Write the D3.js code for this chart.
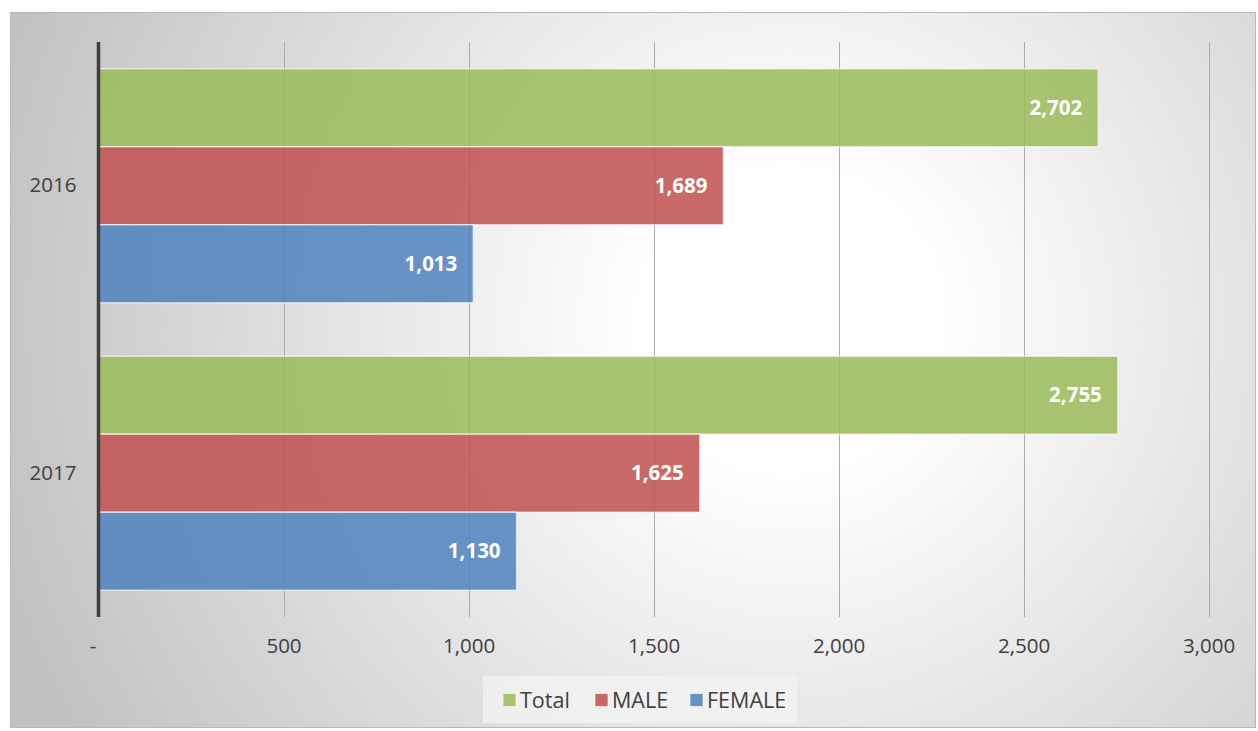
<!DOCTYPE html>
<html>
<head>
<meta charset="utf-8">
<script src="https://cdn.jsdelivr.net/npm/d3@7"></script>
<style>
  html, body { margin: 0; padding: 0; background: #ffffff; }
  svg { display: block; }
</style>
</head>
<body>
<svg id="chart" width="1258" height="731"></svg>
<script>
// Yearly counts by group
const years = ["2016", "2017"];
const seriesNames = ["Total", "MALE", "FEMALE"];
const totalValues = [2702, 2755];
const maleValues = [1689, 1625];
const femaleValues = [1013, 1130];
const tickValues = [0, 500, 1000, 1500, 2000, 2500, 3000];
const seriesColors = ["#9bbb59", "#c0504d", "#4f81bd"];

const valuesBySeries = [totalValues, maleValues, femaleValues];

const svg = d3.select("#chart");
const fontFamily = "'Open Sans', 'Noto Sans', sans-serif";

// Background: radial shading inside a framed panel
const defs = svg.append("defs");
const grad = defs.append("radialGradient")
  .attr("id", "bgGrad")
  .attr("gradientUnits", "userSpaceOnUse")
  .attr("cx", 790).attr("cy", 320).attr("r", 820);
grad.append("stop").attr("offset", "0").attr("stop-color", "#ffffff");
grad.append("stop").attr("offset", "0.18").attr("stop-color", "#ffffff");
grad.append("stop").attr("offset", "1").attr("stop-color", "#c2c2c2");

svg.append("rect")
  .attr("x", 10.5).attr("y", 12.5)
  .attr("width", 1245).attr("height", 715)
  .attr("fill", "url(#bgGrad)")
  .attr("stroke", "#b8b8b8")
  .attr("stroke-width", 1);

// Plot area
const plotLeft = 98.5, plotRight = 1208.5, plotTop = 42, plotBottom = 617;

const x = d3.scaleLinear().domain([0, 3000]).range([plotLeft, plotRight]);
const y0 = d3.scaleBand().domain(years).range([plotTop, plotBottom]).paddingInner(0.186).paddingOuter(0.093);
const y1 = d3.scaleBand().domain(seriesNames).range([0, y0.bandwidth()]).padding(0);

// Vertical gridlines
svg.append("g")
  .selectAll("line")
  .data(tickValues.filter(d => d > 0))
  .join("line")
  .attr("x1", d => Math.round(x(d)) + 0.5)
  .attr("x2", d => Math.round(x(d)) + 0.5)
  .attr("y1", plotTop).attr("y2", plotBottom)
  .attr("stroke", "#ababab")
  .attr("stroke-width", 1);

// Bars
const groups = svg.append("g")
  .selectAll("g")
  .data(years)
  .join("g")
  .attr("transform", d => `translate(0,${y0(d)})`);

groups.selectAll("rect")
  .data((yr, i) => seriesNames.map((s, j) => ({ series: s, value: valuesBySeries[j][i], color: seriesColors[j] })))
  .join("rect")
  .attr("x", x(0))
  .attr("y", d => y1(d.series))
  .attr("width", d => x(d.value) - x(0))
  .attr("height", y1.bandwidth())
  .attr("fill", d => d.color)
  .attr("fill-opacity", 0.85)
  .attr("stroke", "#ffffff")
  .attr("stroke-opacity", 0.6)
  .attr("stroke-width", 1.5);

// Value labels inside bar ends
const fmt = d3.format(",");
groups.selectAll("text")
  .data((yr, i) => seriesNames.map((s, j) => ({ series: s, value: valuesBySeries[j][i] })))
  .join("text")
  .attr("x", d => x(d.value) - 16)
  .attr("y", d => y1(d.series) + y1.bandwidth() / 2)
  .attr("dy", "0.35em")
  .attr("text-anchor", "end")
  .attr("fill", "#ffffff")
  .attr("font-family", fontFamily)
  .attr("font-weight", "bold")
  .attr("font-size", 20.5)
  .text(d => fmt(d.value));

// Category axis (left)
const yAxis = svg.append("g")
  .attr("transform", `translate(${plotLeft},0)`)
  .call(d3.axisLeft(y0).tickSize(0).tickPadding(22));
yAxis.select(".domain").remove();
yAxis.selectAll("text")
  .attr("font-family", fontFamily)
  .attr("font-size", 20.5)
  .attr("fill", "#404040");
svg.append("line")
  .attr("x1", plotLeft).attr("x2", plotLeft)
  .attr("y1", plotTop).attr("y2", plotBottom)
  .attr("stroke", "#404040")
  .attr("stroke-width", 3.5);

// Value axis (bottom)
const xAxis = svg.append("g")
  .attr("transform", `translate(0,${plotBottom})`)
  .call(d3.axisBottom(x).tickValues(tickValues).tickSize(0).tickPadding(21)
    .tickFormat(d => d === 0 ? "-" : fmt(d)));
xAxis.select(".domain").remove();
xAxis.selectAll("text")
  .attr("font-family", fontFamily)
  .attr("font-size", 20.5)
  .attr("fill", "#404040");
xAxis.selectAll(".tick")
  .filter(d => d === 0)
  .select("text")
  .attr("dx", -6);

// Legend
const legend = svg.append("g");
legend.append("rect")
  .attr("x", 483).attr("y", 676)
  .attr("width", 314).attr("height", 47)
  .attr("fill", "#f2f2f2")
  .attr("fill-opacity", 0.8);
const legendX = [503, 595, 690];
const items = legend.selectAll("g.item")
  .data(seriesNames)
  .join("g")
  .attr("class", "item")
  .attr("transform", (d, i) => `translate(${legendX[i]},700)`);
items.append("rect")
  .attr("x", 0).attr("y", -6.5)
  .attr("width", 13).attr("height", 13)
  .attr("fill", (d, i) => seriesColors[i])
  .attr("fill-opacity", 0.85)
  .attr("stroke", "#ffffff")
  .attr("stroke-opacity", 0.6);
items.append("text")
  .attr("x", 17).attr("y", 0)
  .attr("dy", "0.35em")
  .attr("font-family", fontFamily)
  .attr("font-size", 21.5)
  .attr("fill", "#404040")
  .text(d => d);
</script>
</body>
</html>
